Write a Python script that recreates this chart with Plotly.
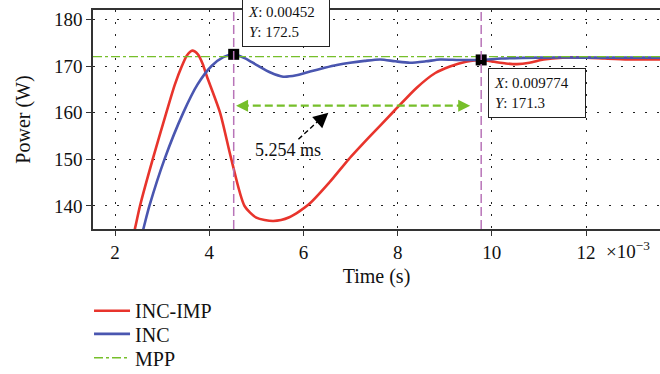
import plotly.graph_objects as go

# Time axis in milliseconds (tick labels carry the x10^-3 factor)
t_inc_imp = [2.30, 2.42, 2.53, 2.80, 3.09, 3.27, 3.42, 3.53, 3.64, 3.76, 3.86, 3.95,
             4.23, 4.47, 4.75, 5.00, 5.36, 5.70, 6.11, 6.565, 6.96, 7.40, 7.92, 8.40,
             8.80, 9.11, 9.45, 9.774, 10.05, 10.30, 10.53, 10.80, 11.10, 11.50, 12.00,
             12.40, 12.90, 13.60]
p_inc_imp = [130.5, 135.0, 140.0, 150.0, 160.0, 166.0, 170.0, 172.3, 173.3, 172.5, 170.5, 167.8,
             160.0, 150.0, 140.0, 137.5, 136.8, 137.6, 140.3, 145.2, 150.0, 154.8, 160.3, 165.3,
             168.5, 169.9, 170.9, 171.3, 170.9, 170.55, 170.4, 170.7, 171.4, 171.8, 171.8,
             171.6, 171.4, 171.4]

t_inc = [2.48, 2.60, 2.73, 3.05, 3.45, 3.75, 4.05, 4.30, 4.52, 4.75, 5.01, 5.30, 5.57,
         5.85, 6.14, 6.45, 6.71, 6.99, 7.30, 7.63, 7.95, 8.26, 8.60, 8.90, 9.30,
         9.774, 10.20, 11.00, 12.00, 13.60]
p_inc = [130.5, 135.0, 140.0, 150.0, 160.0, 166.0, 170.0, 171.9, 172.5, 171.7, 170.2, 168.6, 167.7,
         168.0, 168.8, 169.6, 170.2, 170.7, 171.1, 171.4, 171.0, 170.7, 171.0, 171.4, 171.3,
         171.3, 171.6, 171.8, 171.8, 171.8]

p_mpp = 172.0
x_range = [1.533, 13.57]
y_range = [135.07, 182.0]
x_ticks = [2, 4, 6, 8, 10, 12]
y_ticks = [140, 150, 160, 170, 180]

# Data tips (seconds, watts)
tip_x_s = [0.00452, 0.009774]
tip_y = [172.5, 171.3]
tip_box_center = [(5.628, 179.49), (10.963, 164.32)]
tip_box_width = [76, 86]

# Settling-time interval and its label
span_y = 161.5
span_x = [4.57, 9.54]
settle_label = "5.254 ms"

FONT = "Liberation Serif, DejaVu Serif, serif"
RED = "#e8342c"
BLUE = "#4a56b0"
GREEN = "#76bf2a"
PINK = "#b874b8"

fig = go.Figure()

fig.add_trace(go.Scatter(
    x=t_inc_imp, y=p_inc_imp, mode="lines", name="INC-IMP", legend="legend",
    line=dict(color=RED, width=2.6, shape="spline", smoothing=0.7)))
fig.add_trace(go.Scatter(
    x=t_inc, y=p_inc, mode="lines", name="INC", legend="legend2",
    line=dict(color=BLUE, width=2.6, shape="spline", smoothing=0.7)))
fig.add_trace(go.Scatter(
    x=x_range, y=[p_mpp, p_mpp], mode="lines", name="MPP", legend="legend3",
    line=dict(color=GREEN, width=1.4, dash="dashdot")))

tip_x_ms = [v * 1e3 for v in tip_x_s]

# Vertical cursor lines through the data tips
for xv in tip_x_ms:
    fig.add_shape(type="line", xref="x", yref="paper", x0=xv, x1=xv, y0=0, y1=1,
                  line=dict(color=PINK, width=1.5, dash="9px,4px"), layer="above")

fig.add_trace(go.Scatter(
    x=tip_x_ms, y=tip_y, mode="markers", showlegend=False,
    marker=dict(symbol="square", size=11, color="black")))

# Data tip boxes
for (cx, cy), w, xv, yv in zip(tip_box_center, tip_box_width, tip_x_s, tip_y):
    fig.add_annotation(
        x=cx, y=cy, xref="x", yref="y", showarrow=False,
        text=f"<i>X</i>: {xv:g}<br><i>Y</i>: {yv:g}",
        align="left", width=w, height=38, xanchor="center", yanchor="middle",
        bgcolor="white", bordercolor="#222", borderwidth=1, borderpad=5,
        font=dict(family=FONT, size=15, color="#111"))

# Green double-headed interval arrow
fig.add_shape(type="line", xref="x", yref="y", x0=span_x[0] + 0.1, x1=span_x[1] - 0.1,
              y0=span_y, y1=span_y, line=dict(color=GREEN, width=2.4, dash="8px,4px"))
for xv, off in zip(span_x, [12, -12]):
    fig.add_annotation(x=xv, y=span_y, xref="x", yref="y", text="", showarrow=True,
                       ax=off, ay=0, arrowhead=2, arrowsize=1.2, arrowwidth=2,
                       arrowcolor=GREEN)

# Black pointer from the label to the interval
tail = (5.894, 154.3)
head = (6.53, 160.0)
fig.add_shape(type="line", xref="x", yref="y", x0=tail[0], y0=tail[1],
              x1=head[0] - 0.12, y1=head[1] - 0.9,
              line=dict(color="black", width=1.4, dash="5px,3px"))
fig.add_annotation(x=head[0], y=head[1], xref="x", yref="y", text="", showarrow=True,
                   ax=-10, ay=9, arrowhead=2, arrowsize=2, arrowwidth=1.5,
                   arrowcolor="black")
fig.add_annotation(x=5.68, y=152.0, xref="x", yref="y", text=settle_label,
                   showarrow=False, font=dict(family=FONT, size=18, color="#111"))

# Exponent of the time axis
fig.add_annotation(x=0.986, y=-0.096, xref="paper", yref="paper",
                   text="\u00d710<sup>\u22123</sup>", showarrow=False,
                   xanchor="right", yanchor="middle",
                   font=dict(family=FONT, size=19, color="#111"))

fig.update_xaxes(
    range=x_range, tickvals=x_ticks, ticktext=[str(v) for v in x_ticks],
    showline=True, linecolor="#333", linewidth=1.5, mirror=True,
    ticks="outside", ticklen=5, tickcolor="#333", tickwidth=1.2,
    showgrid=True, gridcolor="#222", gridwidth=1, griddash="2px,10px",
    zeroline=False, tickfont=dict(family=FONT, size=19, color="#111"),
    title=dict(text="Time (s)", font=dict(family=FONT, size=20, color="#111"), standoff=7))
fig.update_yaxes(
    range=y_range, tickvals=y_ticks,
    showline=True, linecolor="#333", linewidth=1.5, mirror=False,
    ticks="outside", ticklen=5, tickcolor="#333", tickwidth=1.2,
    showgrid=True, gridcolor="#222", gridwidth=1, griddash="2px,10px",
    zeroline=False, tickfont=dict(family=FONT, size=19, color="#111"),
    title=dict(text="Power (W)", font=dict(family=FONT, size=20, color="#111"), standoff=18))

# One legend box per entry so each row sits at its own height
legend_rows_y = [-0.373, -0.479, -0.588]


def legend_box(yv):
    return dict(x=-0.007, y=yv, xref="paper", yref="paper",
                xanchor="left", yanchor="middle", bgcolor="rgba(0,0,0,0)",
                font=dict(family=FONT, size=20, color="#111"), itemwidth=36)


fig.update_layout(
    width=660, height=374,
    margin=dict(l=93, r=0, t=10, b=145, autoexpand=False),
    paper_bgcolor="white", plot_bgcolor="white",
    font=dict(family=FONT, color="#111"),
    legend=legend_box(legend_rows_y[0]),
    legend2=legend_box(legend_rows_y[1]),
    legend3=legend_box(legend_rows_y[2]),
)

fig.write_html("out.html")
